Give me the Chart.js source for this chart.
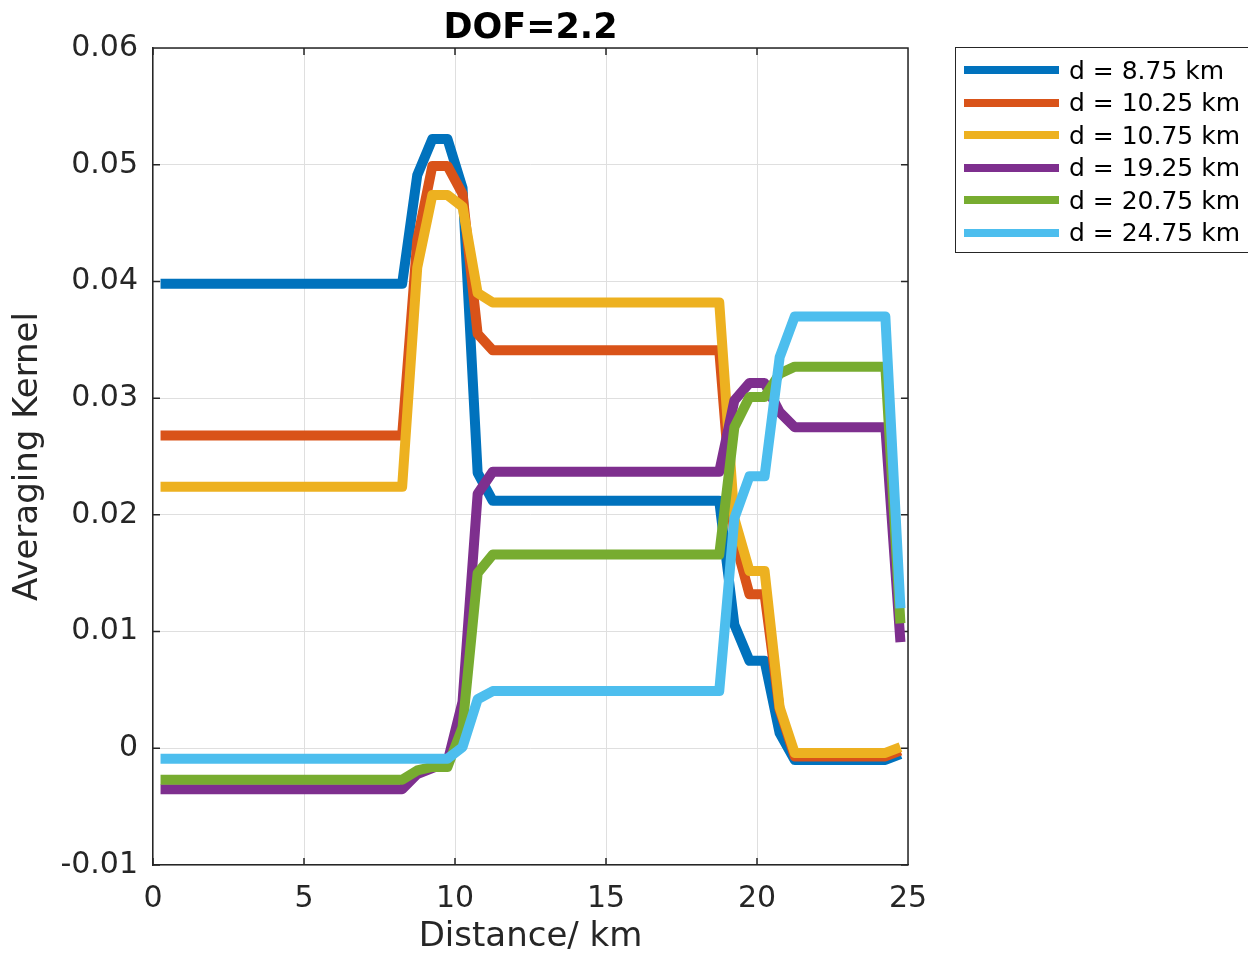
<!DOCTYPE html>
<html>
<head>
<meta charset="utf-8">
<title>DOF=2.2</title>
<script src="https://cdn.jsdelivr.net/npm/chart.js@4/dist/chart.umd.min.js"></script>
<style>
  html, body { margin: 0; padding: 0; background: #fff; overflow: hidden; }
  #wrap { position: relative; width: 1248px; height: 960px; }
  #legend {
    position: absolute; left: 955px; top: 47px; width: 320px; height: 206px;
    border: 1.5px solid #262626; box-sizing: border-box; padding-top: 6px;
    font-family: "DejaVu Sans", sans-serif; font-size: 25px; color: #000;
  }
  .row { display: flex; align-items: center; height: 32.5px; }
  .swatch { width: 95px; height: 8px; margin-left: 8px; margin-right: 10px; }
</style>
</head>
<body>
<div id="wrap">
  <canvas id="akChart" width="1248" height="960"></canvas>
  <div id="legend"></div>
</div>
<script>
// distance grid (km)
const xKm = [
  0.25, 0.75, 1.25, 1.75, 2.25, 2.75, 3.25, 3.75, 4.25, 4.75,
  5.25, 5.75, 6.25, 6.75, 7.25, 7.75, 8.25, 8.75, 9.25, 9.75,
  10.25, 10.75, 11.25, 11.75, 12.25, 12.75, 13.25, 13.75, 14.25, 14.75,
  15.25, 15.75, 16.25, 16.75, 17.25, 17.75, 18.25, 18.75, 19.25, 19.75,
  20.25, 20.75, 21.25, 21.75, 22.25, 22.75, 23.25, 23.75, 24.25, 24.75
];

// averaging kernel rows
const ak875 = [
  0.0398, 0.0398, 0.0398, 0.0398, 0.0398, 0.0398, 0.0398, 0.0398, 0.0398, 0.0398,
  0.0398, 0.0398, 0.0398, 0.0398, 0.0398, 0.0398, 0.0398, 0.0491, 0.0522, 0.0522,
  0.0480, 0.0236, 0.0212, 0.0212, 0.0212, 0.0212, 0.0212, 0.0212, 0.0212, 0.0212,
  0.0212, 0.0212, 0.0212, 0.0212, 0.0212, 0.0212, 0.0212, 0.0212, 0.0106, 0.0075,
  0.0075, 0.0013, -0.0010, -0.0010, -0.0010, -0.0010, -0.0010, -0.0010, -0.0010, -0.0005
];
const ak1025 = [
  0.0268, 0.0268, 0.0268, 0.0268, 0.0268, 0.0268, 0.0268, 0.0268, 0.0268, 0.0268,
  0.0268, 0.0268, 0.0268, 0.0268, 0.0268, 0.0268, 0.0268, 0.0435, 0.0499, 0.0499,
  0.0475, 0.0355, 0.0341, 0.0341, 0.0341, 0.0341, 0.0341, 0.0341, 0.0341, 0.0341,
  0.0341, 0.0341, 0.0341, 0.0341, 0.0341, 0.0341, 0.0341, 0.0341, 0.0180, 0.0132,
  0.0132, 0.0033, -0.0007, -0.0007, -0.0007, -0.0007, -0.0007, -0.0007, -0.0007, -0.0002
];
const ak1075 = [
  0.0224, 0.0224, 0.0224, 0.0224, 0.0224, 0.0224, 0.0224, 0.0224, 0.0224, 0.0224,
  0.0224, 0.0224, 0.0224, 0.0224, 0.0224, 0.0224, 0.0224, 0.0412, 0.0474, 0.0474,
  0.0464, 0.0390, 0.0382, 0.0382, 0.0382, 0.0382, 0.0382, 0.0382, 0.0382, 0.0382,
  0.0382, 0.0382, 0.0382, 0.0382, 0.0382, 0.0382, 0.0382, 0.0382, 0.0197, 0.0152,
  0.0152, 0.0035, -0.0004, -0.0004, -0.0004, -0.0004, -0.0004, -0.0004, -0.0004, 0.0001
];
const ak1925 = [
  -0.0035, -0.0035, -0.0035, -0.0035, -0.0035, -0.0035, -0.0035, -0.0035, -0.0035, -0.0035,
  -0.0035, -0.0035, -0.0035, -0.0035, -0.0035, -0.0035, -0.0035, -0.0022, -0.0017, -0.0012,
  0.0040, 0.0218, 0.0237, 0.0237, 0.0237, 0.0237, 0.0237, 0.0237, 0.0237, 0.0237,
  0.0237, 0.0237, 0.0237, 0.0237, 0.0237, 0.0237, 0.0237, 0.0237, 0.0298, 0.0313,
  0.0313, 0.0288, 0.0275, 0.0275, 0.0275, 0.0275, 0.0275, 0.0275, 0.0275, 0.0091
];
const ak2075 = [
  -0.0027, -0.0027, -0.0027, -0.0027, -0.0027, -0.0027, -0.0027, -0.0027, -0.0027, -0.0027,
  -0.0027, -0.0027, -0.0027, -0.0027, -0.0027, -0.0027, -0.0027, -0.0019, -0.0016, -0.0016,
  0.0018, 0.0150, 0.0166, 0.0166, 0.0166, 0.0166, 0.0166, 0.0166, 0.0166, 0.0166,
  0.0166, 0.0166, 0.0166, 0.0166, 0.0166, 0.0166, 0.0166, 0.0166, 0.0275, 0.0301,
  0.0301, 0.0321, 0.0327, 0.0327, 0.0327, 0.0327, 0.0327, 0.0327, 0.0327, 0.0107
];
const ak2475 = [
  -0.0009, -0.0009, -0.0009, -0.0009, -0.0009, -0.0009, -0.0009, -0.0009, -0.0009, -0.0009,
  -0.0009, -0.0009, -0.0009, -0.0009, -0.0009, -0.0009, -0.0009, -0.0009, -0.0009, -0.0009,
  0.0001, 0.0042, 0.0049, 0.0049, 0.0049, 0.0049, 0.0049, 0.0049, 0.0049, 0.0049,
  0.0049, 0.0049, 0.0049, 0.0049, 0.0049, 0.0049, 0.0049, 0.0049, 0.0197, 0.0233,
  0.0233, 0.0335, 0.0370, 0.0370, 0.0370, 0.0370, 0.0370, 0.0370, 0.0370, 0.0120
];

const seriesLabels = ['d = 8.75 km', 'd = 10.25 km', 'd = 10.75 km', 'd = 19.25 km', 'd = 20.75 km', 'd = 24.75 km'];
const seriesValues = [ak875, ak1025, ak1075, ak1925, ak2075, ak2475];
const seriesColors = ['#0072BD', '#D95319', '#EDB120', '#7E2F8E', '#77AC30', '#4DBEEE'];

const xTicks = [0, 5, 10, 15, 20, 25];
const yTicks = [-0.01, 0, 0.01, 0.02, 0.03, 0.04, 0.05, 0.06];

const FONT = '"DejaVu Sans", sans-serif';
const AXIS = '#262626';

// box on, ticks pointing inward on all four sides (matlab style)
const frame = {
  id: 'frame',
  beforeDatasetsDraw(chart) {
    const { ctx, chartArea: a, scales } = chart;
    const tl = 7;
    ctx.save();
    ctx.strokeStyle = AXIS;
    ctx.lineWidth = 1.5;
    ctx.beginPath();
    ctx.moveTo(a.left, a.top); ctx.lineTo(a.right, a.top); ctx.lineTo(a.right, a.bottom);
    xTicks.forEach(v => {
      const px = scales.x.getPixelForValue(v);
      ctx.moveTo(px, a.bottom); ctx.lineTo(px, a.bottom - tl);
      ctx.moveTo(px, a.top); ctx.lineTo(px, a.top + tl);
    });
    yTicks.forEach(v => {
      const py = scales.y.getPixelForValue(v);
      ctx.moveTo(a.left, py); ctx.lineTo(a.left + tl, py);
      ctx.moveTo(a.right, py); ctx.lineTo(a.right - tl, py);
    });
    ctx.stroke();
    ctx.restore();
  },
  afterDraw(chart) {
    const { ctx, chartArea: a } = chart;
    ctx.save();
    ctx.fillStyle = '#000';
    ctx.font = 'bold 35px ' + FONT;
    ctx.textAlign = 'center';
    ctx.textBaseline = 'alphabetic';
    ctx.fillText('DOF=2.2', (a.left + a.right) / 2, 38);
    ctx.restore();
  }
};

const datasets = seriesValues.map((vals, i) => ({
  label: seriesLabels[i],
  data: xKm.map((x, j) => ({ x: x, y: vals[j] })),
  borderColor: seriesColors[i],
  backgroundColor: seriesColors[i],
  borderWidth: 10,
  pointRadius: 0,
  fill: false,
  tension: 0,
  borderJoinStyle: 'round',
  order: seriesValues.length - i
}));

new Chart(document.getElementById('akChart'), {
  type: 'line',
  data: { datasets },
  options: {
    responsive: false,
    animation: false,
    devicePixelRatio: 1,
    layout: { padding: { left: 0, top: 48, right: 340, bottom: 0 } },
    plugins: {
      legend: { display: false },
      tooltip: { enabled: false },
      title: { display: false }
    },
    scales: {
      x: {
        type: 'linear',
        min: 0,
        max: 25,
        afterBuildTicks: s => { s.ticks = xTicks.map(v => ({ value: v })); },
        afterFit: s => { s.height = 95; },
        ticks: { font: { family: FONT, size: 30 }, color: AXIS, padding: 16, maxRotation: 0 },
        grid: { color: '#dfdfdf', lineWidth: 1, drawTicks: false },
        border: { color: AXIS, width: 1.5 },
        title: { display: true, text: 'Distance/ km', color: AXIS, font: { family: FONT, size: 34 }, padding: { top: 0, bottom: 2 } }
      },
      y: {
        type: 'linear',
        min: -0.01,
        max: 0.06,
        afterBuildTicks: s => { s.ticks = yTicks.map(v => ({ value: v })); },
        afterFit: s => { s.width = 153; },
        ticks: {
          font: { family: FONT, size: 30 },
          color: AXIS,
          padding: 15,
          callback: v => String(Math.round(v * 100) / 100)
        },
        grid: { color: '#dfdfdf', lineWidth: 1, drawTicks: false },
        border: { color: AXIS, width: 1.5 },
        title: { display: true, text: 'Averaging Kernel', color: AXIS, font: { family: FONT, size: 34 }, padding: { top: 8, bottom: 0 } }
      }
    }
  },
  plugins: [frame]
});

// legend box, built from the same arrays
const legend = document.getElementById('legend');
seriesLabels.forEach((lab, i) => {
  const row = document.createElement('div');
  row.className = 'row';
  const sw = document.createElement('span');
  sw.className = 'swatch';
  sw.style.background = seriesColors[i];
  const txt = document.createElement('span');
  txt.textContent = lab;
  row.appendChild(sw);
  row.appendChild(txt);
  legend.appendChild(row);
});
</script>
</body>
</html>
